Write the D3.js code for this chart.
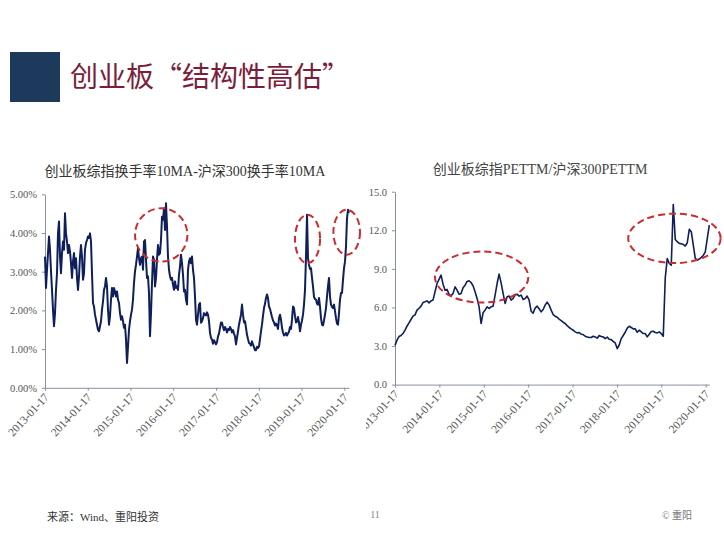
<!DOCTYPE html>
<html lang="zh">
<head>
<meta charset="UTF-8">
<title>创业板“结构性高估”</title>
<style>
    body {
        margin: 0;
        padding: 0;
        background-color: #ffffff;
        overflow: hidden;
    }

    svg {
        display: block;
    }
</style>
</head>
<body>
<script src="https://d3js.org/d3.v7.min.js"></script>
<script>
    // 换手率差 (%), sampled about every 6 trading days from 2013-01-17
    const turnStart = "2013-01-17";
    const turnStepDays = 8.54;
    const turnValues = [
        3.39, 2.58, 3.05, 3.48, 3.91, 3.57, 3.01, 2.53, 2.02, 1.59, 1.93, 2.53, 2.96, 3.99, 4.30, 3.39, 2.96, 3.48, 3.78, 3.57,
        4.51, 3.99, 3.78, 3.48, 3.69, 3.52, 3.22, 2.84, 3.26, 3.48, 3.09, 3.35, 2.84, 2.53, 2.88, 3.39, 3.69, 3.39, 2.79, 2.96,
        3.57, 3.74, 3.82, 3.91, 3.87, 3.99, 3.78, 2.96, 2.19, 2.10, 1.89, 1.76, 1.63, 1.50, 1.46, 1.59, 1.72, 2.02, 2.23, 2.53,
        2.62, 2.84, 2.62, 2.02, 1.63, 1.85, 2.28, 2.58, 2.36, 2.58, 2.49, 2.36, 2.49, 2.28, 2.19, 1.93, 1.76, 1.85, 1.72, 1.55,
        1.63, 1.25, 0.64, 1.07, 1.50, 1.72, 1.89, 2.02, 2.28, 2.71, 3.01, 3.18, 3.39, 3.61, 3.35, 3.18, 3.35, 3.39, 3.05, 3.78,
        3.82, 3.31, 2.84, 2.88, 2.45, 1.33, 1.93, 2.71, 3.39, 3.31, 2.62, 2.84, 3.31, 3.69, 3.44, 3.48, 3.82, 4.42, 4.34, 4.64,
        4.08, 4.77, 4.17, 3.39, 3.05, 2.88, 2.79, 2.84, 2.66, 2.53, 2.75, 2.58, 2.62, 2.53, 2.92, 3.14, 3.44, 3.22, 2.92, 2.49,
        2.53, 2.28, 2.15, 3.05, 3.26, 3.35, 3.22, 3.39, 3.05, 2.84, 2.36, 1.76, 1.63, 1.89, 2.15, 2.19,
        1.68, 1.72, 1.80, 1.93, 1.89, 1.87, 1.95, 1.89, 1.72, 1.42, 1.29, 1.25, 1.14, 1.23, 1.18, 1.12, 1.18, 1.33, 1.40, 1.55,
        1.69, 1.68, 1.57, 1.49, 1.57, 1.52, 1.43, 1.52, 1.49, 1.57, 1.52, 1.43, 1.49, 1.40, 1.33, 1.12, 1.29, 1.46, 1.63, 1.76,
        1.89, 2.15, 1.89, 1.69, 1.72, 1.55, 1.37, 1.26, 1.16, 1.14, 1.09, 1.20, 1.12, 1.05, 0.97, 0.97, 1.06, 1.03, 1.07, 1.26,
        1.46, 1.63, 1.86, 2.06, 2.17, 2.32, 2.41, 2.32, 2.10, 2.04, 1.93, 1.83, 1.74, 1.69, 1.61, 1.66, 1.61, 1.52, 1.80, 1.89,
        1.76, 1.55, 1.43, 1.35, 1.37, 1.42, 1.35, 1.40, 1.45, 1.57, 1.52, 1.76, 2.10, 2.06, 1.85, 1.69, 1.71, 1.83, 1.68, 1.46,
        1.63, 1.74, 1.89, 2.15, 2.53, 3.39, 4.47, 3.35, 3.18, 3.07, 3.09, 2.84, 2.62, 2.35, 2.29, 2.28, 2.17, 2.15, 2.32, 2.10,
        1.80, 1.63, 1.61, 1.74, 1.89, 2.06, 2.36, 2.62, 2.84, 2.36, 2.15, 2.09, 2.06, 2.15, 1.98, 1.80, 1.66, 1.63, 1.93, 2.28,
        2.45, 2.45, 2.79, 3.09, 3.26, 3.65, 4.38, 4.60, 4.52
    ];

    // PETTM ratio, sampled about every 11 trading days from 2013-01-17
    const peStart = "2013-01-17";
    const peStepDays = 16.47;
    const peValues = [
        3.05, 3.45, 3.74, 3.82, 3.97, 4.23, 4.54, 4.80, 5.06, 5.32, 5.42, 5.79, 5.94, 6.10, 6.38, 6.44, 6.51, 6.36, 6.51, 6.57,
        7.22, 7.86, 8.18, 8.51, 7.81, 7.34, 7.40, 7.03, 6.90, 7.09, 7.60, 7.34, 7.03, 7.09, 7.53, 7.73, 8.02, 8.07, 7.94, 7.68,
        7.22, 6.70, 6.05, 4.75, 5.58, 5.79, 6.05, 5.92, 6.05, 6.10, 6.96, 7.86, 8.59, 7.91, 7.09, 6.31, 6.83, 6.88, 6.57, 6.70,
        6.96, 7.03, 6.88, 6.96, 6.62, 6.70, 6.88, 6.57, 5.70, 5.55, 5.95, 6.10, 5.90, 5.66, 5.84, 6.18, 6.41, 6.18, 5.79, 5.45,
        5.32, 5.24, 5.09, 4.98, 4.85, 4.75, 4.59, 4.44, 4.33, 4.23, 4.10, 4.02, 4.05, 3.92, 3.89, 3.76, 3.71, 3.66, 3.66, 3.76,
        3.71, 3.61, 3.82, 3.74, 3.71, 3.58, 3.69, 3.53, 3.50, 3.35, 3.24, 2.80, 3.08, 3.58, 3.82, 4.07, 4.39, 4.54, 4.44, 4.33,
        4.33, 4.07, 4.23, 4.10, 3.97, 3.97, 3.71, 3.92, 4.13, 4.15, 4.05, 4.02, 4.10, 3.97, 3.76, 8.30, 9.81, 9.42, 9.29, 14.0,
        11.29, 11.11, 10.98, 10.95, 10.90, 10.77, 11.03, 12.07, 11.89, 10.85, 9.81, 9.68, 9.76, 9.89, 10.04, 10.33, 11.37, 12.40
    ];

    const tickDates = ["2013-01-17", "2014-01-17", "2015-01-17", "2016-01-17", "2017-01-17", "2018-01-17", "2019-01-17", "2020-01-17"];
    const turnTicks = [0, 1, 2, 3, 4, 5];
    const peTicks = [0, 3, 6, 9, 12, 15];

    // dashed highlight rings: [from date, to date, low value, high value]
    const turnRings = [
        ["2015-02-25", "2016-05-17", 3.26, 4.64],
        ["2018-11-22", "2019-06-24", 3.22, 4.47],
        ["2019-10-16", "2020-05-30", 3.44, 4.60]
    ];
    const peRings = [
        ["2013-12-12", "2016-01-19", 6.38, 10.35],
        ["2018-04-20", "2020-05-19", 9.45, 13.29]
    ];

    const parse = d3.timeParse("%Y-%m-%d");
    const serif = '"Liberation Serif", "Times New Roman", "Noto Sans CJK SC", serif';
    const lineColor = "#0e1f5b";
    const ringColor = "#cc2b2f";
    const axisColor = "#8a90a0";

    const svg = d3.select("body").append("svg")
        .attr("width", 724)
        .attr("height", 538);

    // header
    svg.append("rect")
        .attr("x", 10).attr("y", 52)
        .attr("width", 50).attr("height", 50)
        .attr("fill", "#1d3a5c");

    svg.append("text")
        .attr("x", 70).attr("y", 87)
        .attr("font-family", '"Noto Sans CJK SC", sans-serif')
        .attr("font-size", 28)
        .attr("fill", "#7a1e3c")
        .text("创业板“结构性高估”");

    function seriesFrom(start, step, values) {
        const t0 = parse(start).getTime();
        return values.map((v, i) => ({ date: new Date(t0 + i * step * 864e5), value: v }));
    }

    function drawPanel(cfg) {
        const g = svg.append("g");
        if (cfg.clipLeft) {
            svg.append("clipPath").attr("id", cfg.id + "-clip")
                .append("rect")
                .attr("x", cfg.clipLeft).attr("y", 140)
                .attr("width", 724 - cfg.clipLeft).attr("height", 330);
            g.attr("clip-path", "url(#" + cfg.id + "-clip)");
        }

        const data = seriesFrom(cfg.start, cfg.step, cfg.values);
        const x = d3.scaleTime()
            .domain([data[0].date, data[data.length - 1].date])
            .range([cfg.left, cfg.right]);
        const y = d3.scaleLinear()
            .domain([0, cfg.yMax])
            .range([cfg.bottom, cfg.top]);

        g.append("text")
            .attr("x", cfg.titleX).attr("y", cfg.titleY)
            .attr("text-anchor", "middle")
            .attr("font-family", serif)
            .attr("font-size", 14)
            .attr("fill", cfg.titleColor)
            .text(cfg.title);

        const yAxis = g.append("g")
            .attr("transform", `translate(${cfg.left},0)`)
            .call(d3.axisLeft(y).tickValues(cfg.yTicks).tickFormat(cfg.yFormat)
                .tickSize(3).tickSizeOuter(0).tickPadding(5));

        const xAxis = g.append("g")
            .attr("transform", `translate(0,${cfg.bottom})`)
            .call(d3.axisBottom(x).tickValues(tickDates.map(parse))
                .tickFormat(d3.timeFormat("%Y-%m-%d"))
                .tickSize(3).tickSizeOuter(0));

        [yAxis, xAxis].forEach(a => {
            a.selectAll("path, line").attr("stroke", axisColor);
            a.selectAll("text")
                .attr("fill", "#555")
                .attr("font-family", serif)
                .attr("font-size", 10.5);
        });

        xAxis.selectAll("text")
            .attr("x", 0).attr("y", 0).attr("dy", 0)
            .attr("font-size", 11.5)
            .attr("text-anchor", "end")
            .attr("transform", "translate(4,10) rotate(-47)");

        g.append("path")
            .datum(data)
            .attr("fill", "none")
            .attr("stroke", lineColor)
            .attr("stroke-width", cfg.lineWidth)
            .attr("stroke-linejoin", "round")
            .attr("d", d3.line().x(d => x(d.date)).y(d => y(d.value)));

        const ringLayer = cfg.ringsUnclipped ? svg.append("g") : g;
        ringLayer.selectAll(null)
            .data(cfg.rings)
            .enter()
            .append("ellipse")
            .attr("cx", d => (x(parse(d[0])) + x(parse(d[1]))) / 2)
            .attr("cy", d => (y(d[2]) + y(d[3])) / 2)
            .attr("rx", d => (x(parse(d[1])) - x(parse(d[0]))) / 2)
            .attr("ry", d => (y(d[2]) - y(d[3])) / 2)
            .attr("fill", "none")
            .attr("stroke", ringColor)
            .attr("stroke-width", 2)
            .attr("stroke-dasharray", "7,4");
    }

    drawPanel({
        id: "turn",
        title: "创业板综指换手率10MA-沪深300换手率10MA",
        titleX: 185, titleY: 176, titleColor: "#333",
        start: turnStart, step: turnStepDays, values: turnValues,
        left: 45, right: 349, top: 194.3, bottom: 387.8,
        yMax: 5, yTicks: turnTicks, yFormat: d => d.toFixed(2) + "%",
        lineWidth: 2, rings: turnRings, ringsUnclipped: true
    });

    drawPanel({
        id: "pe",
        title: "创业板综指PETTM/沪深300PETTM",
        titleX: 540, titleY: 174, titleColor: "#444",
        start: peStart, step: peStepDays, values: peValues,
        left: 395, right: 709.3, top: 191.7, bottom: 384.6,
        yMax: 15, yTicks: peTicks, yFormat: d => d.toFixed(1),
        lineWidth: 1.6, rings: peRings, clipLeft: 366
    });

    // footer
    svg.append("text")
        .attr("x", 47).attr("y", 521)
        .attr("font-family", serif)
        .attr("font-size", 11)
        .attr("fill", "#333")
        .text("来源：Wind、重阳投资");

    svg.append("text")
        .attr("x", 375).attr("y", 518)
        .attr("text-anchor", "middle")
        .attr("font-family", serif)
        .attr("font-size", 10)
        .attr("fill", "#888")
        .text("11");

    svg.append("text")
        .attr("x", 662).attr("y", 519)
        .attr("font-family", serif)
        .attr("font-size", 10)
        .attr("fill", "#777")
        .text("© 重阳");
</script>
</body>
</html>
